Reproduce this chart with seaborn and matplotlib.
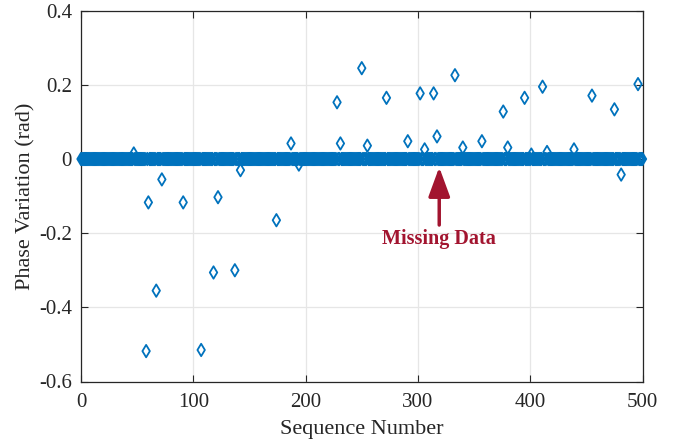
import numpy as np
import pandas as pd
import matplotlib
matplotlib.use("Agg")
import matplotlib.pyplot as plt
import seaborn as sns

# Sequence numbers and the non-zero phase variations
seq_start, seq_end = 0, 500
outlier_seq = [47, 58, 60, 67, 72, 91, 107, 118, 122, 137, 142, 174, 187, 194,
               228, 231, 250, 255, 272, 291, 302, 306, 314, 317, 333, 340, 357,
               376, 380, 395, 401, 411, 415, 439, 455, 475, 481, 496]
outlier_val = [0.015, -0.518, -0.117, -0.355, -0.055, -0.117, -0.515, -0.306,
               -0.103, -0.300, -0.030, -0.165, 0.042, -0.015,
               0.153, 0.042, 0.245, 0.036, 0.165, 0.048, 0.177, 0.026, 0.177,
               0.061, 0.226, 0.031, 0.048, 0.128, 0.031, 0.165, 0.012, 0.195,
               0.019, 0.026, 0.171, 0.134, -0.042, 0.202]
xticks = [0, 100, 200, 300, 400, 500]
yticks = [-0.6, -0.4, -0.2, 0, 0.2, 0.4]
ytick_labels = ["-0.6", "-0.4", "-0.2", "0", "0.2", "0.4"]
annot_x, annot_tip_y, annot_tail_y = 319, -0.022, -0.178
annot_text = "Missing Data"

seq = np.arange(seq_start, seq_end + 1)
phase = np.zeros(len(seq))
for s, v in zip(outlier_seq, outlier_val):
    phase[s - seq_start] = v
df = pd.DataFrame({"Sequence Number": seq, "Phase Variation (rad)": phase})

sns.set_theme(style="whitegrid")
plt.rcParams["font.family"] = ["Liberation Serif", "DejaVu Serif"]
plt.rcParams["mathtext.fontset"] = "stix"

fig = plt.figure(figsize=(6.81, 4.45), dpi=100)
ax = fig.add_axes([81 / 681, (445 - 381.5) / 445, (642.5 - 81) / 681, (381.5 - 10.7) / 445])

blue = "#0072BD"
sns.scatterplot(data=df, x="Sequence Number", y="Phase Variation (rad)", ax=ax,
                marker="d", s=40, facecolor="none", edgecolor=blue,
                linewidth=1.3, clip_on=False, zorder=3)

ax.set_xlim(0, 500)
ax.set_ylim(-0.6, 0.4)
ax.set_xticks(xticks)
ax.set_xticklabels([str(t) for t in xticks])
ax.set_yticks(yticks)
ax.set_yticklabels(ytick_labels)
ax.grid(True, color="#E6E6E6", linewidth=0.9)
ax.set_axisbelow(True)
for sp in ax.spines.values():
    sp.set_visible(True)
    sp.set_color("#262626")
    sp.set_linewidth(0.9)
ax.tick_params(direction="in", length=5, width=0.8, colors="#262626",
               labelsize=15, top=True, right=True, bottom=True, left=True,
               labeltop=False, labelright=False)
ax.tick_params(axis="x", pad=8)
ax.tick_params(axis="y", pad=6.5)
ax.set_xlabel("Sequence Number", fontsize=16, color="#262626", labelpad=6)
ax.set_ylabel("Phase Variation (rad)", fontsize=16, color="#262626", labelpad=2.5)

red = "#A2142F"
ax.annotate("", xy=(annot_x, annot_tip_y), xytext=(annot_x, annot_tail_y),
            arrowprops=dict(arrowstyle="-|>,head_length=1.5,head_width=0.55",
                            color=red, lw=2.5, shrinkA=0, shrinkB=0), zorder=4)
ax.text(annot_x, -0.215, annot_text, color=red, fontsize=14.5, fontweight="bold",
        ha="center", va="center")

fig.savefig("out.png", dpi=100)
